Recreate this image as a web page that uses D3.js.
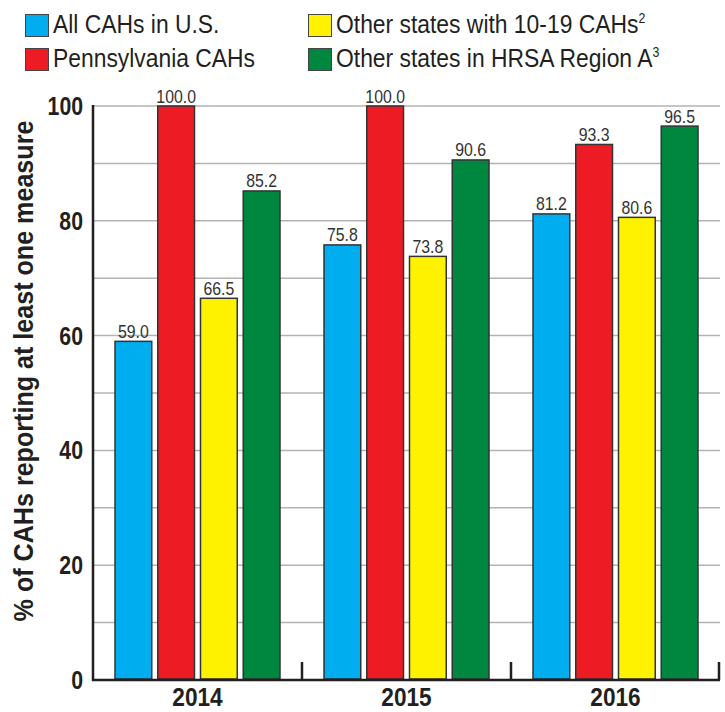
<!DOCTYPE html>
<html>
<head>
<meta charset="utf-8">
<script src="https://cdn.jsdelivr.net/npm/d3@7"></script>
<style>
  body { margin: 0; background: #fff; }
  svg { display: block; font-family: 'Liberation Sans', Arial, sans-serif; }
</style>
</head>
<body>
<div id="chart-area"></div>
<script>
const years = ['2014', '2015', '2016'];
const seriesNames = ['All CAHs in U.S.', 'Pennsylvania CAHs', 'Other states with 10-19 CAHs', 'Other states in HRSA Region A'];
const seriesSup = ['', '', '2', '3'];
const seriesColors = ['#00aeef', '#ed1c24', '#fff200', '#00873f'];
const allUS = [59.0, 75.8, 81.2];
const pennsylvania = [100.0, 100.0, 93.3];
const otherStates = [66.5, 73.8, 80.6];
const regionA = [85.2, 90.6, 96.5];
const yTicks = [0, 20, 40, 60, 80, 100];
const yTitle = '% of CAHs reporting at least one measure';

let width = 725;
let height = 712;
let padding = { left: 93, right: 5, top: 106, bottom: 32 };
let seriesValues = [allUS, pennsylvania, otherStates, regionA];
let ink = '#231f20';

let xScale = d3.scaleBand().domain(years).range([padding.left, width - padding.right]).padding(0);
let x1 = d3
  .scaleBand()
  .domain(d3.range(seriesNames.length))
  .range([22, xScale.bandwidth() - 22])
  .paddingInner(0.14);
let yScale = d3.scaleLinear().domain([0, 100]).range([height - padding.bottom, padding.top]);

let chart = d3.select('#chart-area').append('svg').attr('width', width).attr('height', height);

//gridlines every 10
chart
  .append('g')
  .selectAll('line')
  .data(d3.range(10, 101, 10))
  .enter()
  .append('line')
  .attr('x1', padding.left)
  .attr('x2', width - padding.right)
  .attr('y1', (d) => yScale(d))
  .attr('y2', (d) => yScale(d))
  .attr('stroke', '#b3b3b3')
  .attr('stroke-width', 1.5);

//y tick labels (squeezed horizontally to look condensed)
chart
  .append('g')
  .selectAll('text')
  .data(yTicks)
  .enter()
  .append('text')
  .attr('transform', (d) => `translate(83, ${yScale(d) + 9}) scale(0.85, 1)`)
  .attr('text-anchor', 'end')
  .attr('font-size', 25)
  .attr('font-weight', 'bold')
  .attr('fill', ink)
  .text((d) => d);

//y axis title
chart
  .append('text')
  .attr('transform', `translate(33, 371) rotate(-90) scale(0.93, 1)`)
  .attr('text-anchor', 'middle')
  .attr('font-size', 27)
  .attr('font-weight', 'bold')
  .attr('fill', ink)
  .text(yTitle);

//bars
let groups = chart
  .append('g')
  .selectAll('g')
  .data(years)
  .enter()
  .append('g')
  .attr('transform', (d) => `translate(${xScale(d)}, 0)`);

let bars = groups
  .selectAll('g')
  .data((d, i) => seriesValues.map((vals, s) => ({ s: s, v: vals[i] })))
  .enter()
  .append('g');

bars
  .append('rect')
  .attr('x', (d) => x1(d.s))
  .attr('width', x1.bandwidth())
  .attr('y', (d) => yScale(d.v))
  .attr('height', (d) => yScale(0) - 1 - yScale(d.v))
  .attr('fill', (d) => seriesColors[d.s])
  .attr('stroke', '#333')
  .attr('stroke-width', 1.5);

bars
  .append('text')
  .attr(
    'transform',
    (d) => `translate(${x1(d.s) + x1.bandwidth() / 2}, ${yScale(d.v) - 3.5}) scale(0.88, 1)`,
  )
  .attr('text-anchor', 'middle')
  .attr('font-size', 18)
  .attr('fill', '#333')
  .text((d) => d.v.toFixed(1));

//axes lines
chart
  .append('line')
  .attr('x1', padding.left)
  .attr('x2', padding.left)
  .attr('y1', yScale(100) - 1)
  .attr('y2', yScale(0) + 1)
  .attr('stroke', ink)
  .attr('stroke-width', 2.5);
chart
  .append('line')
  .attr('x1', padding.left - 1)
  .attr('x2', width - padding.right)
  .attr('y1', yScale(0))
  .attr('y2', yScale(0))
  .attr('stroke', ink)
  .attr('stroke-width', 2.5);

//x ticks at category boundaries
chart
  .append('g')
  .selectAll('line')
  .data(years.slice(1).map((d) => xScale(d)).concat([width - padding.right - 1]))
  .enter()
  .append('line')
  .attr('x1', (d) => d)
  .attr('x2', (d) => d)
  .attr('y1', yScale(0))
  .attr('y2', yScale(0) - 18)
  .attr('stroke', ink)
  .attr('stroke-width', 2.5);

//x labels
chart
  .append('g')
  .selectAll('text')
  .data(years)
  .enter()
  .append('text')
  .attr('transform', (d) => `translate(${xScale(d) + xScale.bandwidth() / 2}, 706) scale(0.87, 1)`)
  .attr('text-anchor', 'middle')
  .attr('font-size', 26)
  .attr('font-weight', 'bold')
  .attr('fill', ink)
  .text((d) => d);

//legend
let legendPos = [
  [25, 14],
  [25, 48],
  [308, 14],
  [308, 48],
];
let legend = chart
  .append('g')
  .selectAll('g')
  .data(seriesNames)
  .enter()
  .append('g')
  .attr('transform', (d, i) => `translate(${legendPos[i][0]}, ${legendPos[i][1]})`);
legend
  .append('rect')
  .attr('x', 0.5)
  .attr('y', 0.5)
  .attr('width', 23)
  .attr('height', 22)
  .attr('fill', (d, i) => seriesColors[i])
  .attr('stroke', '#444')
  .attr('stroke-width', 1);
let legendText = legend
  .append('text')
  .attr('transform', 'translate(28, 19) scale(0.88, 1)')
  .attr('font-size', 26)
  .attr('fill', ink)
  .text((d) => d);
legendText
  .append('tspan')
  .attr('font-size', 14)
  .attr('dy', -10)
  .text((d, i) => seriesSup[i]);
</script>
</body>
</html>
